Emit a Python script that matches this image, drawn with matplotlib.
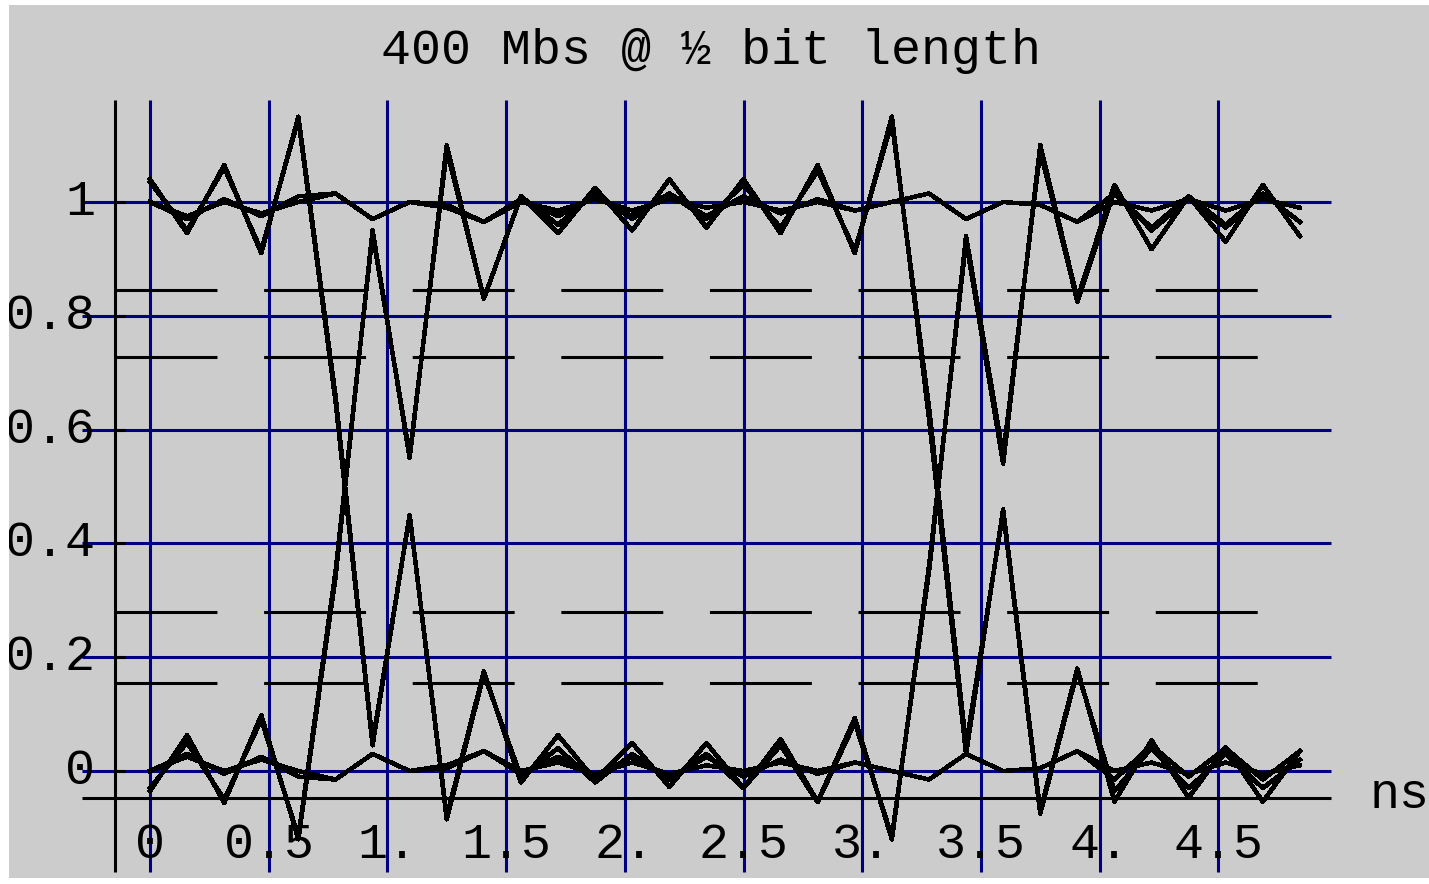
import matplotlib.pyplot as plt
import numpy as np
from matplotlib.patches import Rectangle

plt.rcParams['font.family'] = ['Liberation Mono', 'DejaVu Sans Mono']
plt.rcParams['lines.scale_dashes'] = False

# sample step of the traces in ns (16 samples per 2.5 ns bit)
dt = 0.15625
n_samples = 32

# eye traces, named after the bit pattern (bit before, bit, bit after)
tr_000 = [0.0, 0.025, 0.0, 0.02, 0.0, -0.015, 0.03, 0.0, 0.005, 0.035, 0.0, 0.015,
          -0.005, 0.015, -0.005, 0.01, 0.0, 0.015, 0.0, 0.015, 0.0, -0.015, 0.03, 0.0,
          0.005, 0.035, 0.0, 0.015, -0.005, 0.015, -0.005, 0.01]
tr_111 = [1.0, 0.975, 1.0, 0.98, 1.0, 1.015, 0.97, 1.0, 0.995, 0.965, 1.0, 0.985,
          1.005, 0.985, 1.005, 0.99, 1.0, 0.985, 1.0, 0.985, 1.0, 1.015, 0.97, 1.0,
          0.995, 0.965, 1.0, 0.985, 1.005, 0.985, 1.005, 0.99]
tr_001 = [0.0, 0.03, -0.005, 0.025, -0.01, -0.015, 0.03, 0.0, 0.01, 0.035, -0.005, 0.025,
          -0.01, 0.025, -0.015, 0.03, -0.03, 0.045, -0.055, 0.085, -0.115, 0.35, 0.94, 0.555,
          1.09, 0.825, 1.02, 0.95, 1.005, 0.955, 1.015, 0.965]
tr_110 = [1.0, 0.97, 1.005, 0.975, 1.01, 1.015, 0.97, 1.0, 0.99, 0.965, 1.005, 0.975,
          1.01, 0.975, 1.015, 0.97, 1.03, 0.955, 1.055, 0.915, 1.14, 0.64, 0.045, 0.455,
          -0.075, 0.175, -0.035, 0.04, -0.03, 0.03, -0.03, 0.02]
tr_100 = [1.035, 0.95, 1.06, 0.915, 1.145, 0.65, 0.045, 0.45, -0.085, 0.17, -0.01, 0.04,
          -0.02, 0.03, -0.015, 0.025, -0.01, 0.02, -0.005, 0.015, 0.0, -0.015, 0.03, 0.0,
          0.005, 0.035, -0.015, 0.045, -0.01, 0.04, -0.015, 0.035]
tr_011 = [-0.03, 0.05, -0.05, 0.09, -0.115, 0.35, 0.945, 0.555, 1.09, 0.83, 1.01, 0.96,
          1.015, 0.97, 1.015, 0.975, 1.01, 0.98, 1.005, 0.985, 1.0, 1.015, 0.97, 1.0,
          0.995, 0.965, 1.015, 0.955, 1.01, 0.96, 1.015, 0.965]
tr_101 = [1.04, 0.945, 1.065, 0.91, 1.15, 0.66, 0.05, 0.45, -0.08, 0.175, -0.02, 0.063,
          -0.016, 0.049, -0.028, 0.049, -0.03, 0.056, -0.054, 0.093, -0.12, 0.36, 0.93, 0.54,
          1.10, 0.83, 1.03, 0.917, 1.01, 0.93, 1.03, 0.94]
tr_010 = [-0.035, 0.063, -0.056, 0.098, -0.12, 0.34, 0.95, 0.55, 1.10, 0.83, 1.01, 0.945,
          1.025, 0.95, 1.04, 0.955, 1.04, 0.945, 1.065, 0.91, 1.15, 0.62, 0.03, 0.46,
          -0.07, 0.18, -0.054, 0.054, -0.047, 0.042, -0.054, 0.035]
traces = [tr_000, tr_111, tr_001, tr_110, tr_100, tr_011, tr_101, tr_010]

# axis stuff
x_ticks = [0, 0.5, 1.0, 1.5, 2.0, 2.5, 3.0, 3.5, 4.0, 4.5]
x_labels = ["0", "0.5", "1.", "1.5", "2.", "2.5", "3.", "3.5", "4.", "4.5"]
y_ticks = [0, 0.2, 0.4, 0.6, 0.8, 1.0]
y_labels = ["0", "0.2", "0.4", "0.6", "0.8", "1"]
mask_levels = [0.154, 0.28, 0.728, 0.846]

W, H = 1429, 884
fig = plt.figure(figsize=(W / 100, H / 100), dpi=100)
fig.patch.set_facecolor('white')
fig.patches.append(Rectangle((9 / W, 6 / H), 1, 1 - 11 / H, transform=fig.transFigure,
                             facecolor='#cccccc', edgecolor='none', zorder=-10))
# white border on the left clips the y labels like the original
fig.patches.append(Rectangle((0, 0), 9 / W, 1, transform=fig.transFigure,
                             facecolor='white', edgecolor='none', zorder=10))

ax = fig.add_axes([0, 0, 1, 1])
ax.set_xlim(-150 / 237.4, (W - 150) / 237.4)
ax.set_ylim((771 - H) / 569, 771 / 569)
ax.axis('off')

navy = '#000080'
ax.vlines(x_ticks, -0.1775, 1.179, colors=navy, lw=2.2, zorder=1)
ax.hlines(y_ticks, -0.2864, 4.975, colors=navy, lw=2.2, zorder=1)

# mask lines
ax.hlines(mask_levels, -0.1474, 4.676, colors='black', lw=2.2,
          linestyles=(0, (73.4, 33.6)), zorder=2)

# axes
ax.vlines(-0.1474, -0.1775, 1.179, colors='black', lw=2.2, zorder=4)
ax.hlines(-0.0475, -0.2864, 4.975, colors='black', lw=2.2, zorder=4)
ax.hlines(y_ticks, -0.1474, -0.105, colors='black', lw=2.2, zorder=4)

t = dt * np.arange(n_samples)
for tr in traces:
    ax.plot(t, tr, color='black', lw=2.5, antialiased=False, zorder=3)

fs = 36
for xt, lab in zip(x_ticks, x_labels):
    ax.text(xt, -0.130, lab, ha='center', va='center', fontsize=fs)
for yt, lab in zip(y_ticks, y_labels):
    ax.text(-0.232, yt, lab, ha='right', va='center', fontsize=fs)
ax.text(5.139, -0.042, "ns", ha='left', va='center', fontsize=fs)
ax.text(2.363, 1.265, "400 Mbs @ \u00bd bit length", ha='center', va='center', fontsize=fs)

fig.savefig('out.png', dpi=100, facecolor=fig.get_facecolor())
